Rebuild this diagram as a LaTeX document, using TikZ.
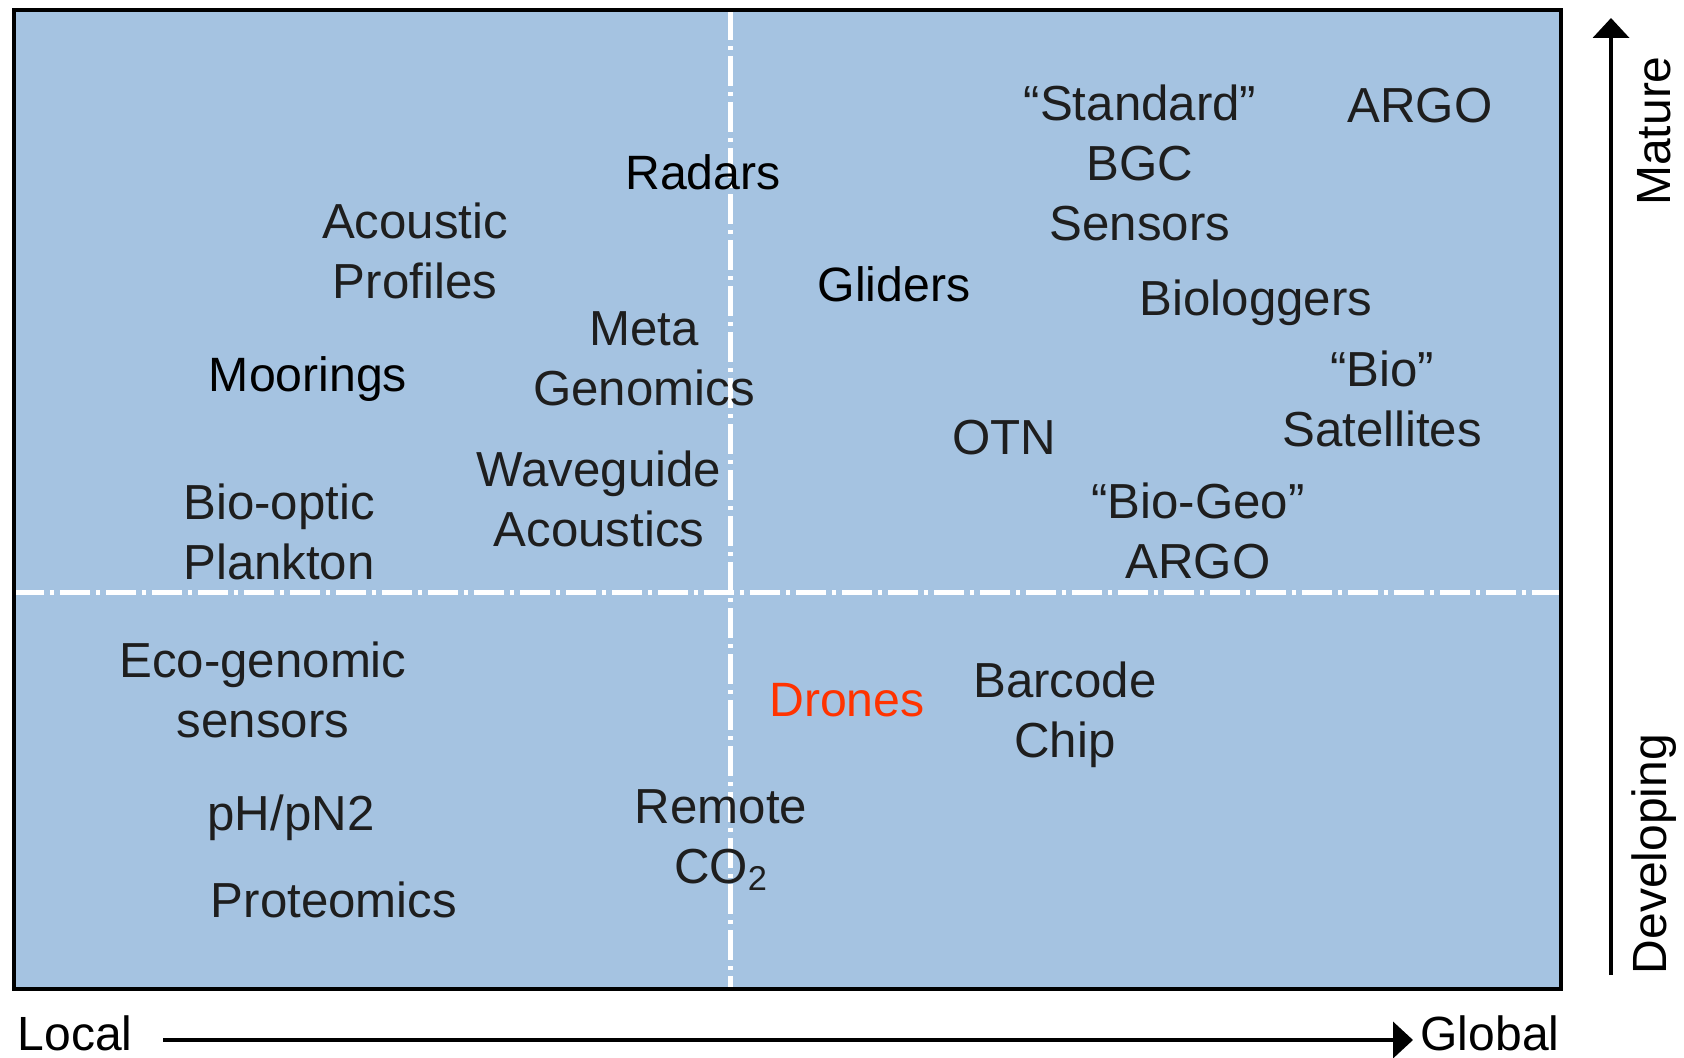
\documentclass[tikz,border=0pt]{standalone}
\usepackage{fontspec}
\setmainfont{Liberation Sans}
\usetikzlibrary{arrows.meta}
\definecolor{bgblue}{RGB}{165,195,225}
\definecolor{txtgray}{RGB}{30,30,30}
\definecolor{dronered}{RGB}{255,51,0}
\begin{document}
\begin{tikzpicture}[x=0.5pt,y=-0.5pt,
  lbl/.style={inner sep=0pt,align=center,text=txtgray,font=\fontsize{24.6}{30}\selectfont},
  lblk/.style={inner sep=0pt,align=center,text=black,font=\fontsize{24.1}{30}\selectfont},
  axlbl/.style={inner sep=0pt,text=black,font=\fontsize{24}{30}\selectfont},
  divider/.style={white,line width=2.5pt,dash pattern=on 15pt off 3pt on 2pt off 3pt},
  axarrow/.style={black,line width=2pt,-{Triangle[width=18pt,length=10pt]}}]
\useasboundingbox (0,0) rectangle (1684,1058);
\fill[white] (0,0) rectangle (1684,1058);
% panel
\coordinate (tl) at (14,10);
\coordinate (br) at (1561,989);
\fill[bgblue] (tl) rectangle (br);
\coordinate (vtop) at (730,10);
\coordinate (vbot) at (730,989);
\coordinate (hleft) at (14,592);
\coordinate (hright) at (1561,592);
\draw[divider] (hleft) -- (hright);
\draw[divider] (vtop) -- (vbot);
\draw[black,line width=2pt] (tl) rectangle (br);
% labels
\node[lblk] (radars) at (703,172) {Radars};
\node[lbl] (acoustic) at (415,251) {Acoustic\\Profiles};
\node[lbl] (meta) at (644,359) {Meta\\Genomics};
\node[lblk] (moorings) at (308,379) {Moorings};
\node[lbl] (waveguide) at (599,499) {Waveguide\\Acoustics};
\node[lbl] (biooptic) at (279,532) {Bio-optic\\Plankton};
\node[lblk] (gliders) at (894,284) {Gliders};
\node[lbl] (standard) at (1140,163) {“Standard”\\BGC\\Sensors};
\node[lbl] (argo) at (1420,106) {ARGO};
\node[lbl] (biologgers) at (1256,303) {Biologgers};
\node[lbl] (biosat) at (1382,399) {“Bio”\\Satellites};
\node[lbl] (otn) at (1004,438) {OTN};
\node[lbl] (biogeo) at (1198,531) {“Bio-Geo”\\ARGO};
\node[lbl] (ecogen) at (263,690) {Eco-genomic\\sensors};
\node[lblk,text=dronered] (drones) at (847,700) {Drones};
\node[lbl] (barcode) at (1065,715) {Barcode\\Chip};
\node[lbl] (ph) at (291,818) {pH/pN2};
\node[lbl] (remote) at (721,840) {Remote\\CO\textsubscript{2}};
\node[lbl] (proteomics) at (334,900) {Proteomics};
% axes
\node[axlbl] (local) at (75,1033) {Local};
\node[axlbl] (global) at (1490,1033) {Global};
\coordinate (hstart) at (163,1040);
\coordinate (hend) at (1413,1040);
\draw[axarrow] (hstart) -- (hend);
\coordinate (vstart) at (1611,975);
\coordinate (vend) at (1611,18);
\draw[axarrow] (vstart) -- (vend);
\node[axlbl,rotate=90] (mature) at (1654,131) {Mature};
\node[axlbl,rotate=90] (developing) at (1654,854) {Developing};
\end{tikzpicture}
\end{document}
